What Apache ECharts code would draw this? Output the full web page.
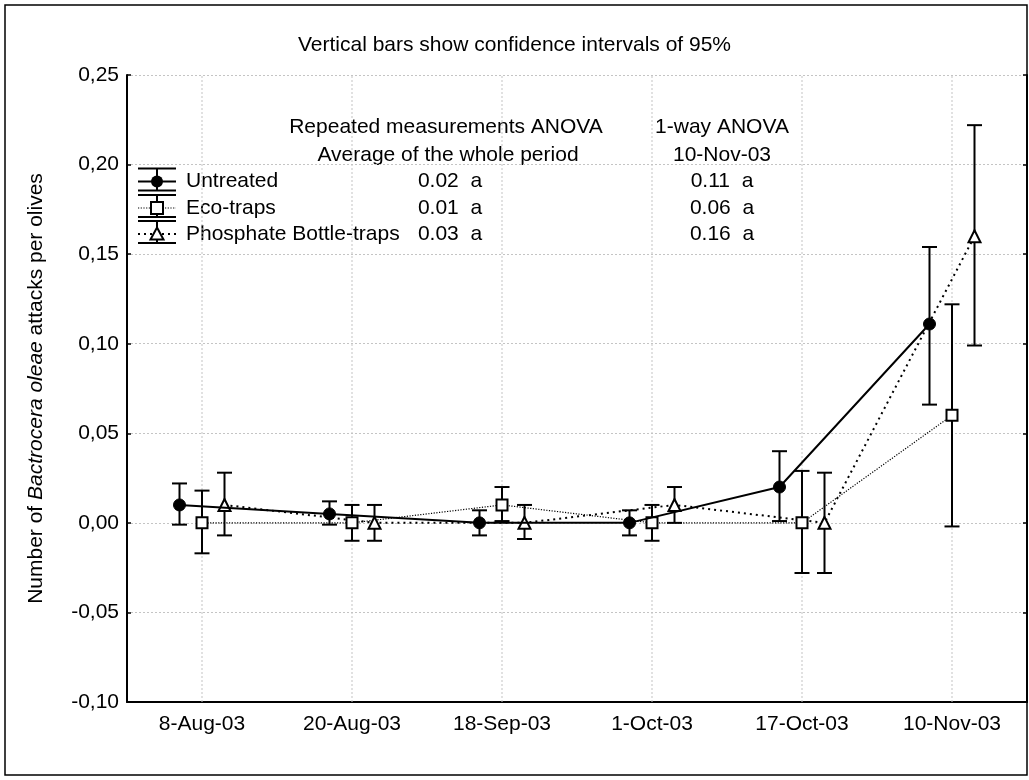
<!DOCTYPE html>
<html>
<head>
<meta charset="utf-8">
<script src="https://cdn.jsdelivr.net/npm/echarts@6/dist/echarts.min.js"></script>
<style>
html,body{margin:0;padding:0;background:#fff;}
#chart{width:1029px;height:780px;}
</style>
</head>
<body>
<div id="chart"></div>
<script>
// ---- data ----
const categories = ['8-Aug-03','20-Aug-03','18-Sep-03','1-Oct-03','17-Oct-03','10-Nov-03'];
const untreatedMean = [0.010, 0.005, 0.000, 0.000, 0.020, 0.111];
const untreatedLow  = [-0.001, -0.001, -0.007, -0.007, 0.001, 0.066];
const untreatedHigh = [0.022, 0.012, 0.007, 0.007, 0.040, 0.154];
const ecoMean = [0.000, 0.000, 0.010, 0.000, 0.000, 0.060];
const ecoLow  = [-0.017, -0.010, 0.001, -0.010, -0.028, -0.002];
const ecoHigh = [0.018, 0.010, 0.020, 0.010, 0.029, 0.122];
const phosMean = [0.010, 0.000, 0.000, 0.010, 0.000, 0.160];
const phosLow  = [-0.007, -0.010, -0.009, 0.000, -0.028, 0.099];
const phosHigh = [0.028, 0.010, 0.010, 0.020, 0.028, 0.222];
const yTicks = {min: -0.10, max: 0.25, step: 0.05};
const seriesNames = ['Untreated', 'Eco-traps', 'Phosphate Bottle-traps'];
const tableHeader = ['Repeated measurements ANOVA', '1-way ANOVA'];
const tableSub = ['Average of the whole period', '10-Nov-03'];
const wholePeriod = ['0.02  a', '0.01  a', '0.03  a'];
const lastDate = ['0.11  a', '0.06  a', '0.16  a'];
const titleText = 'Vertical bars show confidence intervals of 95%';

// ---- styling ----
const FONT = 'Liberation Sans, Arial, sans-serif';
const FS = 21;
const OFF = 0.15;

const chart = echarts.init(document.getElementById('chart'), null, {renderer: 'canvas'});

function pts(mean, off) { return mean.map((v, i) => [i + off, v]); }
function errs(lo, hi, off) { return lo.map((v, i) => [i + off, v, hi[i]]); }

function errRender(params, api) {
  const x = api.value(0), lo = api.value(1), hi = api.value(2);
  const a = api.coord([x, lo]), b = api.coord([x, hi]);
  const hw = 7.5;
  const st = {stroke: '#000', lineWidth: 2};
  return {type: 'group', children: [
    {type: 'line', shape: {x1: a[0], y1: a[1], x2: b[0], y2: b[1]}, style: st},
    {type: 'line', shape: {x1: b[0] - hw, y1: b[1], x2: b[0] + hw, y2: b[1]}, style: st},
    {type: 'line', shape: {x1: a[0] - hw, y1: a[1], x2: a[0] + hw, y2: a[1]}, style: st}
  ]};
}

function vgridRender(params, api) {
  const x = api.value(0);
  const a = api.coord([x, yTicks.min]), b = api.coord([x, yTicks.max]);
  return {type: 'line', shape: {x1: a[0], y1: a[1], x2: b[0], y2: b[1]},
    style: {stroke: '#c4c4c4', lineWidth: 1, lineDash: [2, 2]}};
}

const lineStyles = [
  {color: '#000', width: 2, type: 'solid'},
  {color: '#000', width: 1.2, type: [1.2, 1.5]},
  {color: '#000', width: 2, type: [2, 4]}
];

// legend graphics
function legendItem(idx, cy) {
  const x0 = 138, x1 = 176, cx = 157;
  const ls = lineStyles[idx];
  const ch = [
    {type: 'line', shape: {x1: x0, y1: cy - 13, x2: x1, y2: cy - 13}, style: {stroke: '#000', lineWidth: 2}},
    {type: 'line', shape: {x1: x0, y1: cy + 9, x2: x1, y2: cy + 9}, style: {stroke: '#000', lineWidth: 2}},
    {type: 'line', shape: {x1: cx, y1: cy - 13, x2: cx, y2: cy + 9}, style: {stroke: '#000', lineWidth: 2}},
    {type: 'line', shape: {x1: x0, y1: cy, x2: x1, y2: cy},
      style: {stroke: '#000', lineWidth: ls.width, lineDash: ls.type === 'solid' ? null : ls.type}}
  ];
  if (idx === 0) ch.push({type: 'circle', shape: {cx: cx, cy: cy, r: 6}, style: {fill: '#000'}});
  if (idx === 1) ch.push({type: 'rect', shape: {x: cx - 6, y: cy - 6, width: 12, height: 12}, style: {fill: '#fff', stroke: '#000', lineWidth: 2}});
  if (idx === 2) ch.push({type: 'polygon', shape: {points: [[cx, cy - 6.5], [cx + 6.5, cy + 5.5], [cx - 6.5, cy + 5.5]]}, style: {fill: '#fff', stroke: '#000', lineWidth: 2}});
  ch.push({type: 'text', x: 186, y: cy, style: {text: seriesNames[idx], font: FS + 'px ' + FONT, fill: '#000', textAlign: 'left', textVerticalAlign: 'middle', verticalAlign: 'middle'}});
  return ch;
}

function txt(s, x, y) {
  return {type: 'text', x: x, y: y, style: {text: s, font: FS + 'px ' + FONT, fill: '#000', textAlign: 'center', textVerticalAlign: 'middle', verticalAlign: 'middle'}};
}

const rowsY = [181.5, 208, 234];
let graphics = [
  {type: 'rect', shape: {x: 5, y: 5, width: 1022, height: 770}, style: {fill: 'none', stroke: '#000', lineWidth: 1.5}, z: 100},
  txt(tableHeader[0], 446, 127), txt(tableHeader[1], 722, 127),
  txt(tableSub[0], 448, 155), txt(tableSub[1], 722, 155)
];
for (let i = 0; i < 3; i++) {
  graphics.push(txt(wholePeriod[i], 450, rowsY[i]));
  graphics.push(txt(lastDate[i], 722, rowsY[i]));
  graphics = graphics.concat(legendItem(i, rowsY[i]));
}

const yLabelFmt = v => v.toFixed(2).replace('.', ',');

const option = {
  animation: false,
  backgroundColor: '#fff',
  textStyle: {fontFamily: FONT},
  title: {text: titleText, left: 'center', top: 30,
    textStyle: {fontSize: FS, fontWeight: 'normal', color: '#000', fontFamily: FONT}},
  grid: {left: 127, right: 2, top: 75, bottom: 78, containLabel: false},
  xAxis: [
    {type: 'value', min: -0.5, max: 5.5, show: false, axisLine: {onZero: false}},
    {type: 'category', data: categories, boundaryGap: true, position: 'bottom',
      axisLine: {onZero: false, lineStyle: {color: '#000', width: 2}},
      axisTick: {alignWithLabel: true, inside: true, length: 4, lineStyle: {color: '#000', width: 1.5}},
      axisLabel: {color: '#000', fontSize: FS, fontFamily: FONT, margin: 12},
      splitLine: {show: false}}
  ],
  yAxis: [
    {type: 'value', min: yTicks.min, max: yTicks.max, interval: yTicks.step, position: 'left',
      name: 'Number of {i|Bactrocera oleae} attacks per olives',
      nameLocation: 'middle', nameGap: 80,
      nameTextStyle: {fontSize: FS, color: '#000', fontFamily: FONT,
        rich: {i: {fontStyle: 'italic', fontSize: FS, color: '#000', fontFamily: FONT}}},
      axisLine: {show: true, onZero: false, lineStyle: {color: '#000', width: 2}},
      axisTick: {show: true, inside: true, length: 4, lineStyle: {color: '#000', width: 1.5}},
      axisLabel: {color: '#000', fontSize: FS, fontFamily: FONT, margin: 8, formatter: yLabelFmt},
      splitLine: {show: true, lineStyle: {color: '#c4c4c4', width: 1, type: [2, 2]}}},
    {type: 'value', min: yTicks.min, max: yTicks.max, interval: yTicks.step, position: 'right',
      axisLine: {show: true, onZero: false, lineStyle: {color: '#000', width: 2}},
      axisTick: {show: true, inside: true, length: 4, lineStyle: {color: '#000', width: 1.5}},
      axisLabel: {show: false}, splitLine: {show: false}}
  ],
  graphic: graphics,
  series: [
    {type: 'custom', name: 'vgrid', xAxisIndex: 0, yAxisIndex: 0, z: 1, silent: true,
      renderItem: vgridRender, data: categories.map((c, i) => [i]), encode: {x: 0}},
    {type: 'custom', name: 'errU', xAxisIndex: 0, yAxisIndex: 0, z: 3, renderItem: errRender,
      data: errs(untreatedLow, untreatedHigh, -OFF), encode: {x: 0, y: [1, 2]}},
    {type: 'custom', name: 'errE', xAxisIndex: 0, yAxisIndex: 0, z: 3, renderItem: errRender,
      data: errs(ecoLow, ecoHigh, 0), encode: {x: 0, y: [1, 2]}},
    {type: 'custom', name: 'errP', xAxisIndex: 0, yAxisIndex: 0, z: 3, renderItem: errRender,
      data: errs(phosLow, phosHigh, OFF), encode: {x: 0, y: [1, 2]}},
    {type: 'line', name: seriesNames[0], xAxisIndex: 0, yAxisIndex: 0, z: 5,
      data: pts(untreatedMean, -OFF), symbol: 'circle', symbolSize: 12,
      itemStyle: {color: '#000', borderColor: '#000'}, lineStyle: lineStyles[0]},
    {type: 'line', name: seriesNames[1], xAxisIndex: 0, yAxisIndex: 0, z: 4,
      data: pts(ecoMean, 0), symbol: 'rect', symbolSize: 11,
      itemStyle: {color: '#fff', borderColor: '#000', borderWidth: 2}, lineStyle: lineStyles[1]},
    {type: 'line', name: seriesNames[2], xAxisIndex: 0, yAxisIndex: 0, z: 4,
      data: pts(phosMean, OFF), symbol: 'triangle', symbolSize: 12,
      itemStyle: {color: '#fff', borderColor: '#000', borderWidth: 2}, lineStyle: lineStyles[2]}
  ]
};
chart.setOption(option);
</script>
</body>
</html>
